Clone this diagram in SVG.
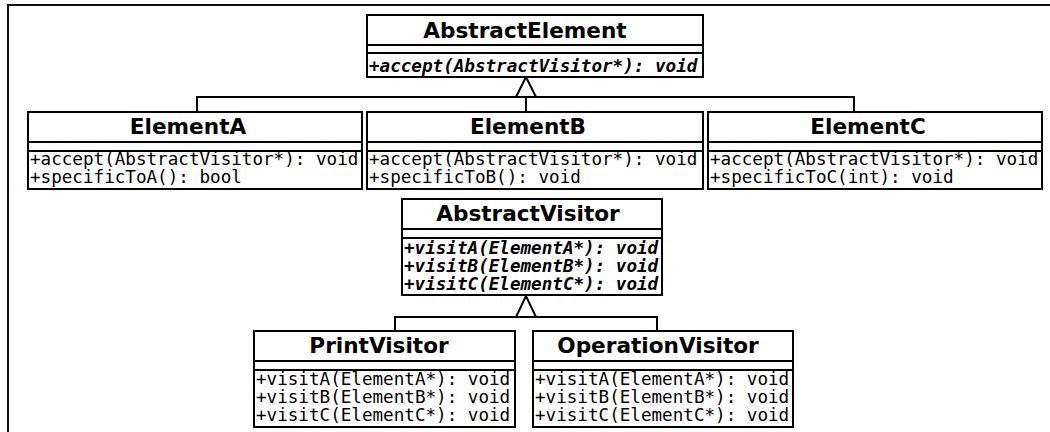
<svg xmlns="http://www.w3.org/2000/svg" width="1050" height="432" viewBox="0 0 1050 432">
  <style>
    .box { fill: #ffffff; stroke: #000000; stroke-width: 2; }
    .sep { stroke: #000000; stroke-width: 2; }
    .title { font-family: "DejaVu Sans", "Liberation Sans", sans-serif; font-weight: bold; font-size: 21.6px; text-anchor: middle; fill: #000000; }
    .member { font-family: "DejaVu Sans Mono", "Liberation Mono", monospace; font-size: 17.6px; fill: #000000; }
    .abstract { font-style: italic; font-weight: bold; }
    .edge { fill: none; stroke: #000000; stroke-width: 2; }
    .frame { fill: none; stroke: #111111; stroke-width: 2; }
  </style>

  <rect width="1050" height="432" fill="#ffffff"/>
  <!-- page frame -->
  <path class="frame" d="M8,432 V5 H1050"/>

  <!-- inheritance connectors -->
  <g id="connectors">
    <path class="edge" d="M197,112 V97 H854 V112 M526,97 V112"/>
    <polygon class="edge" points="526,77 516,97 536,97" fill="#ffffff"/>
    <path class="edge" d="M395,331 V317 H657 V331"/>
    <polygon class="edge" points="526,296 516,317 536,317" fill="#ffffff"/>
  </g>

  <g id="AbstractElement">
    <rect class="box" x="367" y="15" width="336" height="62"/>
    <line class="sep" x1="367" y1="45" x2="703" y2="45"/>
    <line class="sep" x1="367" y1="53" x2="703" y2="53"/>
    <text class="title" x="525" y="38">AbstractElement</text>
    <text class="member abstract" x="369" y="72">+accept(AbstractVisitor*): void</text>
  </g>

  <g id="ElementA">
    <rect class="box" x="28" y="112" width="334" height="77"/>
    <line class="sep" x1="28" y1="142" x2="362" y2="142"/>
    <line class="sep" x1="28" y1="151" x2="362" y2="151"/>
    <text class="title" x="188" y="134">ElementA</text>
    <text class="member" x="30" y="165">+accept(AbstractVisitor*): void</text>
    <text class="member" x="30" y="183">+specificToA(): bool</text>
  </g>

  <g id="ElementB">
    <rect class="box" x="367" y="112" width="336" height="77"/>
    <line class="sep" x1="367" y1="142" x2="703" y2="142"/>
    <line class="sep" x1="367" y1="151" x2="703" y2="151"/>
    <text class="title" x="528" y="134">ElementB</text>
    <text class="member" x="369" y="165">+accept(AbstractVisitor*): void</text>
    <text class="member" x="369" y="183">+specificToB(): void</text>
  </g>

  <g id="ElementC">
    <rect class="box" x="708" y="112" width="334" height="77"/>
    <line class="sep" x1="708" y1="142" x2="1042" y2="142"/>
    <line class="sep" x1="708" y1="151" x2="1042" y2="151"/>
    <text class="title" x="868" y="134">ElementC</text>
    <text class="member" x="710" y="165">+accept(AbstractVisitor*): void</text>
    <text class="member" x="710" y="183">+specificToC(int): void</text>
  </g>

  <g id="AbstractVisitor">
    <rect class="box" x="402" y="199" width="260" height="96"/>
    <line class="sep" x1="402" y1="229" x2="662" y2="229"/>
    <line class="sep" x1="402" y1="238" x2="662" y2="238"/>
    <text class="title" x="528" y="221">AbstractVisitor</text>
    <text class="member abstract" x="404" y="254">+visitA(ElementA*): void</text>
    <text class="member abstract" x="404" y="272">+visitB(ElementB*): void</text>
    <text class="member abstract" x="404" y="290">+visitC(ElementC*): void</text>
  </g>

  <g id="PrintVisitor">
    <rect class="box" x="254" y="331" width="261" height="96"/>
    <line class="sep" x1="254" y1="361" x2="515" y2="361"/>
    <line class="sep" x1="254" y1="370" x2="515" y2="370"/>
    <text class="title" x="379" y="353">PrintVisitor</text>
    <text class="member" x="256" y="385">+visitA(ElementA*): void</text>
    <text class="member" x="256" y="403">+visitB(ElementB*): void</text>
    <text class="member" x="256" y="421">+visitC(ElementC*): void</text>
  </g>

  <g id="OperationVisitor">
    <rect class="box" x="533" y="331" width="260" height="96"/>
    <line class="sep" x1="533" y1="361" x2="793" y2="361"/>
    <line class="sep" x1="533" y1="370" x2="793" y2="370"/>
    <text class="title" x="658" y="353">OperationVisitor</text>
    <text class="member" x="535" y="385">+visitA(ElementA*): void</text>
    <text class="member" x="535" y="403">+visitB(ElementB*): void</text>
    <text class="member" x="535" y="421">+visitC(ElementC*): void</text>
  </g>
</svg>
